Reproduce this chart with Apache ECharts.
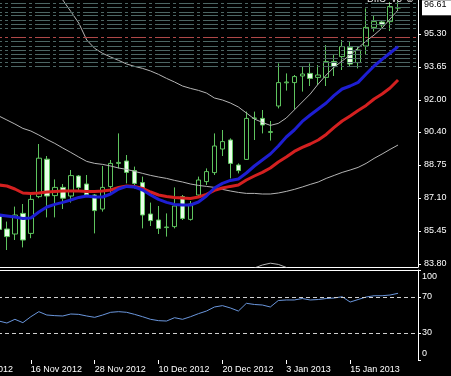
<!DOCTYPE html>
<html><head><meta charset="utf-8">
<script src="https://cdn.jsdelivr.net/npm/echarts@6/dist/echarts.min.js"></script>
<style>html,body{margin:0;padding:0;background:#000;overflow:hidden}#c{width:451px;height:376px;}</style>
</head><body><div id="c"></div>
<script>
// ---- categories (trading days) ----
const dates = [
 '6 Nov 2012','7 Nov 2012','8 Nov 2012','9 Nov 2012',
 '12 Nov 2012','13 Nov 2012','14 Nov 2012','15 Nov 2012','16 Nov 2012','19 Nov 2012','20 Nov 2012','21 Nov 2012','22 Nov 2012','23 Nov 2012',
 '26 Nov 2012','27 Nov 2012','28 Nov 2012','29 Nov 2012','30 Nov 2012','3 Dec 2012','4 Dec 2012','5 Dec 2012','6 Dec 2012','7 Dec 2012',
 '10 Dec 2012','11 Dec 2012','12 Dec 2012','13 Dec 2012','14 Dec 2012','17 Dec 2012','18 Dec 2012','19 Dec 2012','20 Dec 2012','21 Dec 2012',
 '24 Dec 2012','26 Dec 2012','27 Dec 2012','28 Dec 2012','31 Dec 2012','2 Jan 2013','3 Jan 2013','4 Jan 2013','7 Jan 2013','8 Jan 2013',
 '9 Jan 2013','10 Jan 2013','11 Jan 2013','14 Jan 2013','15 Jan 2013','16 Jan 2013','17 Jan 2013','18 Jan 2013','21 Jan 2013','22 Jan 2013',
 '23 Jan 2013','24 Jan 2013','25 Jan 2013'
];
const leadEmpty = 4;   // categories before the first drawn bar
const tailEmpty = 2;   // empty categories after the last bar

// ---- OHLC (12 Nov 2012 .. 23 Jan 2013) ----
const opens = [86.20,85.55,85.30,86.33,85.33,87.17,89.04,87.22,87.63,87.20,88.20,87.80,87.25,86.55,87.67,88.83,88.95,88.47,87.87,86.30,86.00,85.62,85.67,87.17,86.03,87.25,87.92,88.37,89.55,90.00,88.75,89.03,91.08,91.08,90.38,91.70,92.86,92.87,93.20,93.33,93.13,93.13,93.92,94.17,94.63,93.87,94.70,95.63,95.90,95.92,96.60];
const closes = [85.53,85.17,86.25,85.00,87.03,89.09,87.20,87.63,87.09,88.22,87.63,87.25,86.47,87.63,88.83,88.88,88.38,87.83,86.25,85.97,85.58,85.65,86.70,86.08,86.80,88.00,88.42,89.70,89.92,88.83,88.47,91.08,91.10,90.75,90.42,92.87,92.90,93.17,93.30,93.08,93.25,93.92,93.67,94.67,93.80,94.50,95.63,95.92,95.75,96.67,96.61];
const lows = [85.30,84.50,85.00,84.63,85.09,87.09,86.13,86.13,86.55,86.87,87.50,87.17,85.33,86.42,87.25,88.58,87.83,87.58,85.58,85.70,85.30,85.17,85.58,86.00,85.97,87.17,87.75,88.25,89.20,88.08,88.33,89.00,90.00,90.33,89.97,91.58,92.47,91.53,92.42,92.70,92.75,92.70,93.20,93.50,93.67,93.58,94.25,95.42,95.62,95.45,96.50];
const highs = [86.45,85.92,86.67,86.80,87.25,89.80,89.20,88.03,87.80,88.50,88.25,88.25,87.30,88.70,89.00,90.33,89.25,88.67,88.17,86.87,86.70,86.33,87.63,87.25,86.95,88.17,88.58,90.33,90.50,90.08,88.83,91.42,91.42,91.50,90.95,93.83,93.33,93.25,93.70,93.83,93.75,94.75,94.30,95.00,94.92,94.67,96.58,96.25,96.00,96.90,96.92];

// ---- moving averages ----
const maRed = [87.75,87.70,87.55,87.35,87.33,87.35,87.40,87.43,87.45,87.45,87.45,87.43,87.43,87.45,87.50,87.63,87.70,87.68,87.58,87.40,87.25,87.18,87.13,87.10,87.08,87.15,87.28,87.48,87.60,87.68,87.75,88.00,88.20,88.38,88.60,88.90,89.15,89.43,89.63,89.80,90.00,90.28,90.63,90.95,91.20,91.48,91.73,92.05,92.30,92.60,93.00];
const maBlue = [86.25,86.20,86.15,86.08,86.10,86.40,86.65,86.78,86.88,87.00,87.13,87.20,87.15,87.15,87.30,87.55,87.68,87.65,87.50,87.25,87.03,86.88,86.78,86.75,86.75,86.90,87.20,87.60,87.83,87.98,88.05,88.35,88.70,89.00,89.30,89.70,90.15,90.50,90.93,91.25,91.55,91.85,92.23,92.55,92.70,92.88,93.30,93.70,94.03,94.35,94.67];
const maGrayFast = [null,null,null,null,null,null,97.95,97.57,97.00,96.43,95.85,95.00,94.58,94.33,94.15,93.98,93.80,93.68,93.58,93.45,93.28,93.08,92.90,92.70,92.58,92.48,92.35,92.10,92.00,91.85,91.65,91.35,91.05,90.88,90.73,90.83,91.10,91.50,91.90,92.30,92.80,93.25,93.65,93.95,94.25,94.60,94.95,95.25,95.60,96.05,96.50];
const maGraySlow = [91.20,91.00,90.80,90.58,90.45,90.25,90.03,89.83,89.60,89.38,89.15,88.93,88.83,88.78,88.70,88.60,88.53,88.43,88.33,88.23,88.15,88.08,87.98,87.90,87.80,87.73,87.68,87.63,87.53,87.45,87.38,87.33,87.33,87.30,87.30,87.35,87.43,87.53,87.65,87.78,87.90,88.08,88.23,88.38,88.50,88.63,88.83,89.08,89.30,89.53,89.75];
const bandLow = [null,null,null,null,null,null,null,null,null,null,null,null,null,null,null,null,null,null,null,null,null,null,null,null,null,null,null,null,null,null,null,83.30,83.60,83.75,83.84,83.78,83.63,83.35,null,null,null,null,null,null,null,null,null,null,null,null,null];

// ---- oscillator (sub window) ----
const osc = [43.3,41.1,45.2,41.5,48.1,53.7,50.0,49.3,48.9,51.1,50.7,48.9,47.4,50.0,53.0,53.7,53.0,50.7,48.1,45.2,43.7,43.3,47.0,45.2,48.1,51.5,54.4,58.9,60.4,57.8,54.4,63.0,61.7,61.1,58.9,66.1,66.7,66.7,68.3,66.7,67.2,68.3,68.9,70.3,64.4,67.2,70.0,71.4,71.4,72.2,74.1];
const oscLevels = [70, 30];
const oscTicks = [0, 30, 70, 100];

// ---- price levels & ticks ----
const levelPrices = [96.865,96.635,96.40,96.215,96.00,95.80,95.585,94.915,94.665,94.465,94.285,94.085,93.885,93.665];
const redLevel = 95.135;
const priceTicks = [83.80,85.45,87.10,88.75,90.40,92.00,93.65,95.30];
const lastPrice = 96.61;
const expertName = 'BIIS_v8 \u263A';

// ---- build ----
function pad(arr){
  const out = [];
  for (let i=0;i<leadEmpty;i++) out.push('-');
  arr.forEach(v => out.push(v == null ? '-' : v));
  for (let i=0;i<tailEmpty;i++) out.push('-');
  return out;
}
const candles = pad(opens.map((o,i)=>[o, closes[i], lows[i], highs[i]]));
const labelInterval = (idx) => idx % 8 === 0 && idx <= 48;
const FONT = 'Liberation Sans';
const GREEN = '#5ec45e';
const LEVEL_DASH = [15,3,3,3];

const levelLines = levelPrices.map(p => ({yAxis:p}))
  .concat([{yAxis: redLevel, lineStyle:{color:'#b04848', width:1, type:LEVEL_DASH}}]);

const chart = echarts.init(document.getElementById('c'), null, {renderer:'canvas'});
chart.setOption({
  backgroundColor: '#000',
  animation: false,
  grid: [
    {left: -37, right: 33, top: -1, height: 268, outerBoundsMode: 'none', containLabel: false},
    {left: -37, right: 33, top: 270, height: 90, outerBoundsMode: 'none', containLabel: false}
  ],
  xAxis: [
    {type:'category', gridIndex:0, data: dates, boundaryGap: true,
     axisLine:{show:true, onZero:false, lineStyle:{color:'#fff', width:1}},
     axisTick:{show:false}, axisLabel:{show:false}, splitLine:{show:false}},
    {type:'category', gridIndex:1, data: dates, boundaryGap: true, position:'bottom',
     axisLine:{show:false, onZero:false},
     axisTick:{show:true, interval: labelInterval, alignWithLabel:true, length:4, lineStyle:{color:'#fff'}},
     axisLabel:{interval: labelInterval, align:'left', color:'#fff', fontSize:9, fontFamily: FONT, margin:5},
     splitLine:{show:false}},
    {type:'category', gridIndex:1, data: dates, boundaryGap: true, position:'top',
     axisLine:{show:true, onZero:false, lineStyle:{color:'#fff', width:1}},
     axisTick:{show:false}, axisLabel:{show:false}, splitLine:{show:false}}
  ],
  yAxis: [
    {type:'value', gridIndex:0, position:'right', min:83.65, max:97.05, scale:true,
     axisLine:{show:true, lineStyle:{color:'#fff', width:1}},
     axisTick:{show:true, inside:false, length:3, customValues: priceTicks, lineStyle:{color:'#fff'}},
     axisLabel:{customValues: priceTicks.concat([lastPrice]), color:'#fff', fontSize:9, fontFamily: FONT, margin:4,
       formatter: v => Math.abs(v-lastPrice) < 1e-6 ? '{cur|' + v.toFixed(2) + '}' : '{n|' + v.toFixed(2) + '}',
       rich:{cur:{backgroundColor:'#fff', color:'#000', fontSize:9, fontFamily: FONT, padding:[0,5,6,2]},
             n:{color:'#fff', fontSize:9, fontFamily: FONT, padding:[0,0,0,2]}}},
     splitLine:{show:false}},
    {type:'value', gridIndex:1, position:'right', min:0, max:100,
     axisLine:{show:true, lineStyle:{color:'#fff', width:1}},
     axisTick:{show:true, length:3, customValues: oscTicks, lineStyle:{color:'#fff'}},
     axisLabel:{customValues: oscTicks, color:'#fff', fontSize:9, fontFamily: FONT, margin:4,
       formatter: v => v === 100 ? '{t|100}' : (v === 0 ? '{b|0}' : String(v)),
       rich:{t:{color:'#fff', fontSize:9, fontFamily: FONT, padding:[13,0,0,0]},
             b:{color:'#fff', fontSize:9, fontFamily: FONT, padding:[0,0,12,0]}}},
     splitLine:{show:false}}
  ],
  graphic: [
    {type:'text', left: 367, top: -6, z: 100, silent: true,
     style:{text: expertName, fill:'#e6e6e6', font: '10px "Liberation Sans", "DejaVu Sans"'}}
  ],
  series: [
    {type:'candlestick', xAxisIndex:0, yAxisIndex:0, data: candles, barWidth: 5, z: 2,
     itemStyle:{color:'#000', color0:'#eaffea', borderColor: GREEN, borderColor0: GREEN, borderColorDoji: GREEN, borderWidth:1},
     markLine:{silent:true, symbol:'none', animation:false, label:{show:false},
       lineStyle:{color:'#4c6664', width:1, type: LEVEL_DASH},
       data: levelLines}},
    {type:'line', xAxisIndex:0, yAxisIndex:0, data: pad(maGrayFast), symbol:'none', silent:true, z:3,
     lineStyle:{color:'#b4b4b4', width:1}},
    {type:'line', xAxisIndex:0, yAxisIndex:0, data: pad(maGraySlow), symbol:'none', silent:true, z:3,
     lineStyle:{color:'#b4b4b4', width:1}},
    {type:'line', xAxisIndex:0, yAxisIndex:0, data: pad(bandLow), symbol:'none', silent:true, z:3,
     lineStyle:{color:'#b4b4b4', width:1}},
    {type:'line', xAxisIndex:0, yAxisIndex:0, data: pad(maRed), symbol:'none', silent:true, z:4,
     lineStyle:{color:'#d42020', width:3}},
    {type:'line', xAxisIndex:0, yAxisIndex:0, data: pad(maBlue), symbol:'none', silent:true, z:5,
     lineStyle:{color:'#1e1ed2', width:3}},
    {type:'line', xAxisIndex:1, yAxisIndex:1, data: pad(osc), symbol:'none', silent:true, z:3,
     lineStyle:{color:'#6a96dc', width:1},
     markLine:{silent:true, symbol:'none', animation:false, label:{show:false},
       lineStyle:{color:'#d0d0d0', width:1, type:[4,3]},
       data: oscLevels.map(v => ({yAxis:v}))}}
  ]
});
</script>
</body></html>
